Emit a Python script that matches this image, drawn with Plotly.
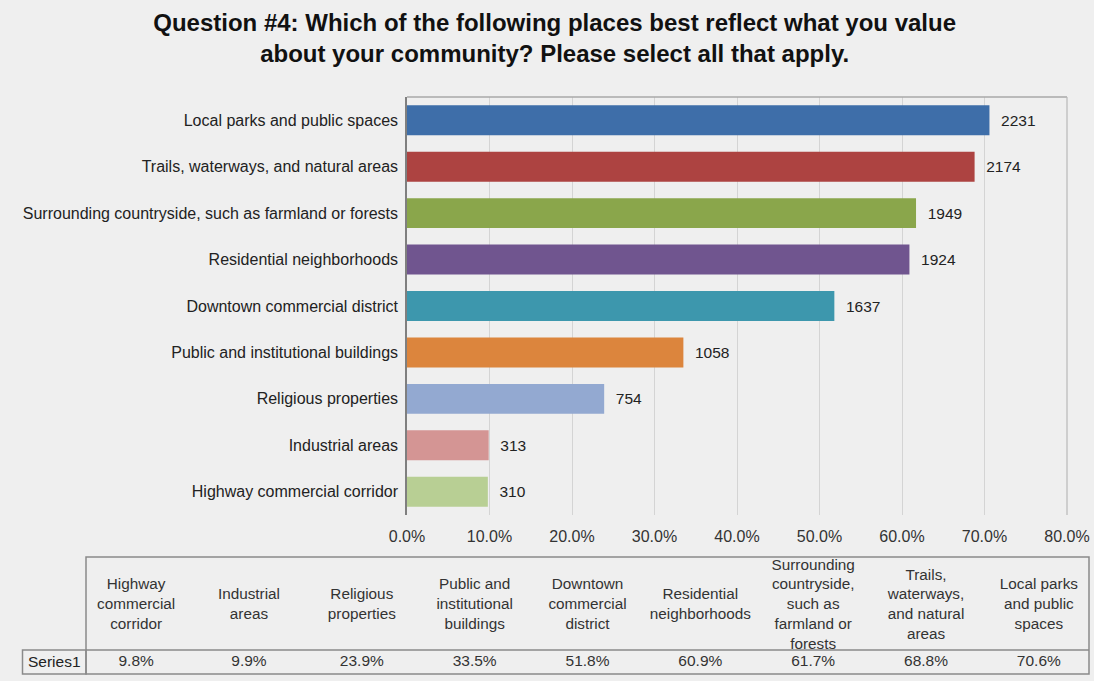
import plotly.graph_objects as go

# ---------------- data ----------------
categories = [
    "Local parks and public spaces",
    "Trails, waterways, and natural areas",
    "Surrounding countryside, such as farmland or forests",
    "Residential neighborhoods",
    "Downtown commercial district",
    "Public and institutional buildings",
    "Religious properties",
    "Industrial areas",
    "Highway commercial corridor",
]
percents = [70.6, 68.8, 61.7, 60.9, 51.8, 33.5, 23.9, 9.9, 9.8]
counts = [2231, 2174, 1949, 1924, 1637, 1058, 754, 313, 310]
bar_colors = ["#3e6ea9", "#ad4341", "#8aa64b", "#70558f", "#3d97ad",
              "#dc853d", "#93a9d1", "#d49594", "#b8cf94"]

x_ticks = [0, 10, 20, 30, 40, 50, 60, 70, 80]
x_tick_labels = ["0.0%", "10.0%", "20.0%", "30.0%", "40.0%",
                 "50.0%", "60.0%", "70.0%", "80.0%"]

table_cols = [
    "Highway commercial corridor", "Industrial areas", "Religious properties",
    "Public and institutional buildings", "Downtown commercial district",
    "Residential neighborhoods",
    "Surrounding countryside, such as farmland or forests",
    "Trails, waterways, and natural areas", "Local parks and public spaces",
]
table_headers = [
    "Highway<br>commercial<br>corridor", "Industrial<br>areas",
    "Religious<br>properties", "Public and<br>institutional<br>buildings",
    "Downtown<br>commercial<br>district", "Residential<br>neighborhoods",
    "Surrounding<br>countryside,<br>such as<br>farmland or<br>forests",
    "Trails,<br>waterways,<br>and natural<br>areas",
    "Local parks<br>and public<br>spaces",
]
table_values = [9.8, 9.9, 23.9, 33.5, 51.8, 60.9, 61.7, 68.8, 70.6]
series_name = "Series1"

title_text = ("Question #4: Which of the following places best reflect what you value"
              "<br>about your community? Please select all that apply.")

# ---------------- layout constants ----------------
W, H = 1094, 681
FONT = "Liberation Sans, Arial, sans-serif"
BG = "#efefef"

def px_x(p):
    return p / W

def px_y(p):
    return 1 - p / H

fig = go.Figure()

fig.add_trace(go.Bar(
    y=categories, x=percents, orientation="h",
    marker=dict(color=bar_colors, line=dict(width=0)),
    text=[str(c) for c in counts], texttemplate="  %{text}",
    textposition="outside", cliponaxis=False,
    textfont=dict(family=FONT, size=15.5, color="#222222"),
    xaxis="x", yaxis="y", showlegend=False, hoverinfo="skip",
))

# table header row and value row
header_y = 0.585
value_y = 0.103
divider_y = 0.205
fig.add_trace(go.Scatter(
    x=table_cols, y=[header_y] * len(table_cols), mode="text",
    text=table_headers, textposition="middle center",
    textfont=dict(family=FONT, size=15.3, color="#333333"),
    xaxis="x2", yaxis="y2", showlegend=False, hoverinfo="skip",
))
fig.add_trace(go.Scatter(
    x=table_cols, y=[value_y] * len(table_cols), mode="text",
    text=[f"{v:.1f}%" for v in table_values], textposition="middle center",
    textfont=dict(family=FONT, size=15.5, color="#333333"),
    xaxis="x2", yaxis="y2", showlegend=False, hoverinfo="skip",
))

plot_l, plot_r, plot_t, plot_b = 407, 1067, 97, 515
tab_l, tab_r, tab_t, tab_b = 86, 1089, 557, 674
series_l = 22.5

fig.update_layout(
    width=W, height=H, autosize=False,
    margin=dict(l=0, r=0, t=0, b=0),
    paper_bgcolor=BG, plot_bgcolor=BG,
    bargap=0.355,
    font=dict(family=FONT, size=15, color="#222222"),
    title=dict(text=title_text, x=0.507, xanchor="center",
               y=px_y(31), yanchor="middle", xref="paper", yref="paper",
               font=dict(family=FONT, size=24, color="#111111", weight="bold")),
    xaxis=dict(domain=[px_x(plot_l), px_x(plot_r)], range=[0, 80],
               tickvals=x_ticks, ticktext=x_tick_labels,
               showgrid=True, gridcolor="#d4d4d4", gridwidth=1,
               zeroline=False, showline=False,
               ticks="outside", ticklen=7, tickcolor="rgba(0,0,0,0)",
               tickfont=dict(family=FONT, size=16, color="#333333"),
               anchor="y", automargin=False, fixedrange=True),
    yaxis=dict(domain=[px_y(plot_b), px_y(plot_t)], autorange="reversed",
               showline=True, linecolor="#7f7f7f", linewidth=1.5,
               showgrid=False, zeroline=False, ticks="",
               ticklabelstandoff=4,
               tickfont=dict(family=FONT, size=16, color="#222222"),
               anchor="x", automargin=False, fixedrange=True),
    xaxis2=dict(domain=[px_x(tab_l), px_x(tab_r)], visible=False,
                categoryorder="array", categoryarray=table_cols,
                anchor="y2", fixedrange=True),
    yaxis2=dict(domain=[px_y(tab_b), px_y(tab_t)], range=[0, 1],
                visible=False, anchor="x2", fixedrange=True),
    shapes=[
        # plot area top and right border
        dict(type="line", xref="x domain", yref="y domain", x0=0, x1=1, y0=1, y1=1,
             line=dict(color="#a8a8a8", width=1.5)),
        dict(type="line", xref="x domain", yref="y domain", x0=1, x1=1, y0=0, y1=1,
             line=dict(color="#b8b8b8", width=1.2)),
        # table outer box
        dict(type="rect", xref="x2 domain", yref="y2 domain", x0=0, x1=1, y0=0, y1=1,
             line=dict(color="#8a8a8a", width=1.5)),
        dict(type="line", xref="x2 domain", yref="y2 domain", x0=0, x1=1,
             y0=divider_y, y1=divider_y, line=dict(color="#8a8a8a", width=1.5)),
        dict(type="rect", xref="paper", yref="y2 domain", x0=px_x(series_l),
             x1=px_x(tab_l), y0=0, y1=divider_y,
             line=dict(color="#8a8a8a", width=1.5)),
    ],
    annotations=[
        dict(text=series_name, xref="paper", yref="y2 domain",
             x=px_x((series_l + tab_l) / 2), y=value_y, xanchor="center",
             yanchor="middle", showarrow=False,
             font=dict(family=FONT, size=15.5, color="#222222")),
    ],
)

fig.write_html("out.html")
